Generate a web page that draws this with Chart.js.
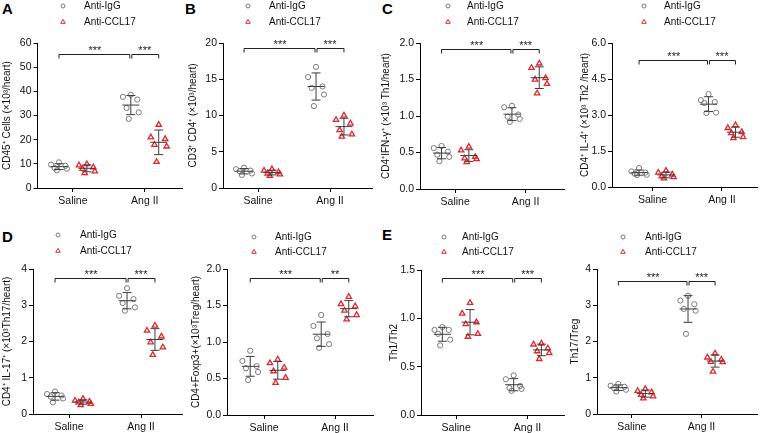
<!DOCTYPE html>
<html><head><meta charset="utf-8">
<script src="https://cdn.jsdelivr.net/npm/chart.js@4.4.1/dist/chart.umd.min.js"></script>
<style>
body{margin:0;width:763px;height:433px;background:#fff;position:relative;overflow:hidden;font-family:"Liberation Sans",Arial,sans-serif;}
canvas{position:absolute;}
.lt{position:absolute;font-weight:bold;font-size:15px;line-height:15px;color:#000;}
</style></head><body>
<div class="lt" style="left:2px;top:1px">A</div>
<div class="lt" style="left:185px;top:1px">B</div>
<div class="lt" style="left:382px;top:1px">C</div>
<div class="lt" style="left:2px;top:229px">D</div>
<div class="lt" style="left:382px;top:227px">E</div>
<script>
// ---------------- DATA ----------------
const categories = ['Saline', 'Ang II'];
const seriesNames = ['Anti-IgG', 'Anti-CCL17'];

// each array: [Saline values, Ang II values]
const cd45IgG   = [[10.6, 9.7, 9.2, 8.3, 8.0, 7.3], [38.6, 37.7, 36.6, 33.1, 31.3, 28.6]];
const cd45CCL   = [[9.9, 9.4, 8.6, 7.9, 6.9, 6.2], [26.2, 21.0, 20.3, 17.9, 17.2, 10.8]];
const cd4IgG    = [[2.8, 2.6, 2.4, 2.3, 2.0, 1.8], [16.7, 15.3, 14.0, 13.8, 12.9, 11.3]];
const cd4CCL    = [[2.6, 2.4, 2.2, 2.0, 1.9, 1.7], [10.0, 9.4, 8.9, 8.0, 7.4, 7.1]];
const th1IgG    = [[0.59, 0.56, 0.51, 0.47, 0.44, 0.38], [1.14, 1.12, 1.02, 0.99, 0.96, 0.92]];
const th1CCL    = [[0.58, 0.53, 0.44, 0.42, 0.41, 0.37], [1.72, 1.66, 1.52, 1.50, 1.44, 1.31]];
const th2IgG    = [[0.79, 0.65, 0.60, 0.55, 0.51, 0.50], [3.87, 3.62, 3.54, 3.50, 3.10, 3.08]];
const th2CCL    = [[0.68, 0.60, 0.52, 0.45, 0.41, 0.36], [2.58, 2.46, 2.29, 2.25, 2.08, 2.04]];
const th17IgG   = [[0.62, 0.55, 0.51, 0.48, 0.43, 0.32], [3.47, 3.26, 3.17, 3.06, 2.94, 2.85]];
const th17CCL   = [[0.42, 0.37, 0.34, 0.32, 0.28, 0.25], [2.44, 2.30, 2.14, 1.98, 1.84, 1.63]];
const tregIgG   = [[0.88, 0.74, 0.67, 0.64, 0.59, 0.48], [1.37, 1.22, 1.11, 1.05, 0.97, 0.92]];
const tregCCL   = [[0.76, 0.71, 0.65, 0.60, 0.51, 0.44], [1.62, 1.52, 1.49, 1.43, 1.37, 1.31]];
const th1th2IgG = [[0.91, 0.88, 0.88, 0.84, 0.78, 0.72], [0.41, 0.37, 0.30, 0.28, 0.27, 0.25]];
const th1th2CCL = [[1.16, 1.05, 0.96, 0.94, 0.84, 0.81], [0.74, 0.73, 0.69, 0.66, 0.64, 0.58]];
const th17tregIgG = [[0.83, 0.78, 0.75, 0.71, 0.67, 0.62], [3.26, 3.13, 3.03, 2.90, 2.85, 2.21]];
const th17tregCCL = [[0.69, 0.64, 0.60, 0.53, 0.49, 0.43], [1.67, 1.56, 1.50, 1.44, 1.43, 1.17]];

// y axis tick settings [max, step, decimals]
const yAxisA  = [60, 10, 0];
const yAxisB  = [20, 5, 0];
const yAxisC1 = [2.0, 0.5, 1];
const yAxisC2 = [6.0, 1.5, 1];
const yAxisD1 = [4, 1, 0];
const yAxisD2 = [2.0, 0.5, 1];
const yAxisE1 = [1.5, 0.5, 1];
const yAxisE2 = [4, 1, 0];

// significance labels [Saline vs AngII (IgG), AngII IgG vs AngII CCL17]
const starsA = ['***', '***'], starsB = ['***', '***'], starsC1 = ['***', '***'], starsC2 = ['***', '***'];
const starsD1 = ['***', '***'], starsD2 = ['***', '**'], starsE1 = ['***', '***'], starsE2 = ['***', '***'];

// ---------------- LAYOUT ----------------
const JITTER = [0, -0.11, 0.09, -0.06, 0.11, -0.03];
const GROUP_OFFSET = [-0.194, 0.194];

const panels = [
  {box:[0,0,188,216],   plot:[37.5,183,43,188], cats:[73,145],  y:yAxisA,  title:'CD45\u207A Cells (\u00D710\u00B3/heart)', tOff:7, igg:cd45IgG, ccl:cd45CCL, br:55.4, stars:starsA, leg:[63,6,84,22]},
  {box:[188,0,190,216], plot:[223,372,43,188],  cats:[258,330], y:yAxisB,  title:'CD3\u207A CD4\u207A (\u00D710\u00B3/heart)', tOff:5, igg:cd4IgG, ccl:cd4CCL, br:19.3, stars:starsB, leg:[248,6,269,22]},
  {box:[378,0,192,216], plot:[420,568,43,189],  cats:[456,528], y:yAxisC1, title:'CD4\u207AIFN-\u03B3\u207A (\u00D710\u00B3 Th1/heart)', tOff:8, igg:th1IgG, ccl:th1CCL, br:1.92, stars:starsC1, leg:[448,6,467,22]},
  {box:[570,0,193,216], plot:[612,763,43,187],  cats:[654,726], y:yAxisC2, title:'CD4\u207A IL-4\u207A (\u00D710\u00B3 Th2 /heart)', tOff:15, igg:th2IgG, ccl:th2CCL, br:5.28, stars:starsC2, leg:[644,6,664,22]},
  {box:[0,216,190,217], plot:[33,182,269,414],  cats:[69,141],  y:yAxisD1, title:'CD4\u207A IL-17\u207A (\u00D710\u00B3Th17/heart)', tOff:7, igg:th17IgG, ccl:th17CCL, br:3.75, stars:starsD1, leg:[58,235,80,251]},
  {box:[190,216,190,217], plot:[227,373,269,415], cats:[264,335], y:yAxisD2, title:'CD4+Foxp3+(\u00D710\u00B3Treg/heart)', tOff:6, igg:tregIgG, ccl:tregCCL, br:1.87, stars:starsD2, leg:[254,237,275,252]},
  {box:[380,216,190,217], plot:[421,568,270,415], cats:[457,530], y:yAxisE1, title:'Th1/Th2', tOff:14, igg:th1th2IgG, ccl:th1th2CCL, br:1.42, stars:starsE1, leg:[444,237,462,252]},
  {box:[570,216,193,217], plot:[597,763,269,414], cats:[633,705], y:yAxisE2, title:'Th17/Treg', tOff:5, igg:th17tregIgG, ccl:th17tregCCL, br:3.68, stars:starsE2, leg:[623,237,645,252]},
];

const FONT = '"Liberation Sans", Arial, sans-serif';
const GRAY = '#7a7a7a', RED = '#e2262c', BAR = '#3d3d3d';

const deco = {
  id: 'deco',
  afterDatasetsDraw(chart) {
    const p = chart.options.plugins.deco.panel;
    const ctx = chart.ctx, xs = chart.scales.x, ys = chart.scales.y;
    ctx.save();
    ctx.lineWidth = 1;
    ctx.strokeStyle = BAR;
    [p.igg, p.ccl].forEach((arr, gi) => {
      arr.forEach((vals, ci) => {
        const n = vals.length;
        const m = vals.reduce((a, b) => a + b, 0) / n;
        const sd = Math.sqrt(vals.reduce((a, b) => a + (b - m) * (b - m), 0) / (n - 1));
        const cx = xs.getPixelForValue(ci + 1 + GROUP_OFFSET[gi]);
        const ym = ys.getPixelForValue(m), yt = ys.getPixelForValue(m + sd), yb = ys.getPixelForValue(m - sd);
        ctx.beginPath();
        ctx.moveTo(cx - 8.5, ym); ctx.lineTo(cx + 8.5, ym);
        ctx.moveTo(cx, yt); ctx.lineTo(cx, yb);
        ctx.moveTo(cx - 4.5, yt); ctx.lineTo(cx + 4.5, yt);
        ctx.moveTo(cx - 4.5, yb); ctx.lineTo(cx + 4.5, yb);
        ctx.stroke();
      });
    });
    const by = Math.round(ys.getPixelForValue(p.br)) + 0.5;
    const x1 = xs.getPixelForValue(1 + GROUP_OFFSET[0]);
    const x2 = xs.getPixelForValue(2 + GROUP_OFFSET[0]);
    const x3 = xs.getPixelForValue(2 + GROUP_OFFSET[1]);
    ctx.strokeStyle = '#222';
    const br = (a, b) => { ctx.beginPath(); ctx.moveTo(a, by + 4); ctx.lineTo(a, by); ctx.lineTo(b, by); ctx.lineTo(b, by + 4); ctx.stroke(); };
    br(x1, x2 - 1); br(x2 + 1, x3);
    ctx.fillStyle = '#222';
    ctx.font = '11px ' + FONT;
    ctx.textAlign = 'center'; ctx.textBaseline = 'alphabetic';
    ctx.fillText(p.stars[0], (x1 + x2) / 2, by - 0.5);
    ctx.fillText(p.stars[1], (x2 + x3) / 2, by - 0.5);
    ctx.restore();
  },
  afterDraw(chart) {
    const p = chart.options.plugins.deco.panel;
    const ctx = chart.ctx;
    const L = p.box[0], T = p.box[1];
    const [cx, y1, tx, y2] = p.leg;
    ctx.save();
    ctx.fillStyle = 'rgba(0,0,0,0)';
    ctx.lineWidth = 1;
    ctx.strokeStyle = GRAY;
    Chart.helpers.drawPoint(ctx, {pointStyle: 'circle', radius: 2, borderWidth: 1}, cx - L, y1 - T);
    ctx.strokeStyle = RED;
    Chart.helpers.drawPoint(ctx, {pointStyle: 'triangle', radius: 2.6, borderWidth: 1}, cx - L, y2 - T);
    ctx.fillStyle = '#111';
    ctx.font = '10px ' + FONT;
    ctx.textAlign = 'left'; ctx.textBaseline = 'middle';
    ctx.fillText(seriesNames[0], tx - L, y1 - T);
    ctx.fillText(seriesNames[1], tx - L, y2 - T);
    ctx.restore();
  }
};

function pts(arr, gi) {
  const out = [];
  arr.forEach((vals, ci) => vals.forEach((v, i) => out.push({x: ci + 1 + GROUP_OFFSET[gi] + JITTER[i], y: v})));
  return out;
}

panels.forEach(p => {
  const [L, T, W, H] = p.box;
  const [ax, pr, pt, pb] = p.plot;
  const cv = document.createElement('canvas');
  cv.width = W; cv.height = H;
  cv.style.left = L + 'px'; cv.style.top = T + 'px';
  cv.style.width = W + 'px'; cv.style.height = H + 'px';
  document.body.appendChild(cv);
  const sp = p.cats[1] - p.cats[0];
  const xmin = 1 - (p.cats[0] - ax) / sp;
  const xmax = 2 + (pr - p.cats[1]) / sp;
  const [ymax, step, dec] = p.y;
  new Chart(cv, {
    type: 'scatter',
    data: {
      datasets: [
        {label: seriesNames[0], data: pts(p.igg, 0), pointStyle: 'circle', pointRadius: 2.6, pointBorderWidth: 1,
         borderColor: GRAY, pointBorderColor: GRAY, backgroundColor: 'rgba(255,255,255,0)', pointBackgroundColor: 'rgba(255,255,255,0)'},
        {label: seriesNames[1], data: pts(p.ccl, 1), pointStyle: 'triangle', pointRadius: 3.1, pointBorderWidth: 1.3,
         borderColor: RED, pointBorderColor: RED, backgroundColor: 'rgba(255,255,255,0)', pointBackgroundColor: 'rgba(255,255,255,0)'}
      ]
    },
    options: {
      responsive: false, animation: false, devicePixelRatio: 1,
      layout: {padding: {left: 0, top: pt - T, right: L + W - pr, bottom: 0}},
      plugins: {legend: {display: false}, tooltip: {enabled: false}, deco: {panel: p}},
      scales: {
        x: {
          type: 'linear', min: xmin, max: xmax,
          afterBuildTicks: s => { s.ticks = [{value: 1}, {value: 2}]; },
          afterFit: s => { s.height = T + H - pb; },
          ticks: {callback: v => categories[v - 1], font: {family: FONT, size: 10.5}, color: '#111', padding: 3, maxRotation: 0, autoSkip: false},
          grid: {drawOnChartArea: false, drawTicks: true, tickLength: 4, color: '#000', lineWidth: 1},
          border: {display: true, color: '#000', width: 1}
        },
        y: {
          type: 'linear', min: 0, max: ymax,
          afterFit: s => { s.width = ax - L; },
          ticks: {stepSize: step, callback: v => Number(v).toFixed(dec), font: {family: FONT, size: 10.5}, color: '#111', padding: 2},
          grid: {drawOnChartArea: false, drawTicks: true, tickLength: 4, color: '#000', lineWidth: 1},
          border: {display: true, color: '#000', width: 1},
          title: {display: true, text: p.title, font: {family: FONT, size: 10, lineHeight: 1}, color: '#111', padding: {top: p.tOff - 5, bottom: 0}}
        }
      }
    },
    plugins: [deco]
  });
});
</script>
</body></html>
